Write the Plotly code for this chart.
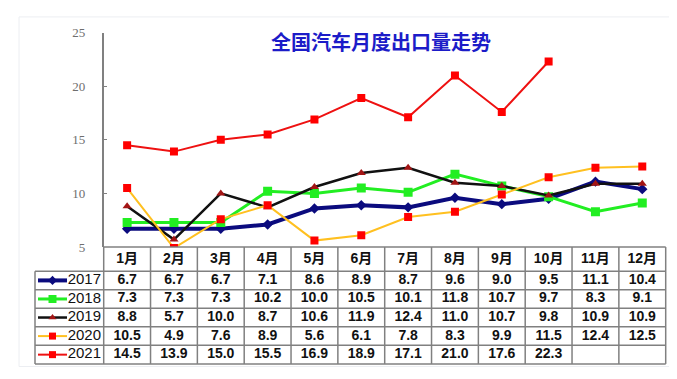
import plotly.graph_objects as go

months = ["1月", "2月", "3月", "4月", "5月", "6月", "7月", "8月", "9月", "10月", "11月", "12月"]
years = ["2017", "2018", "2019", "2020", "2021"]
v2017 = [6.7, 6.7, 6.7, 7.1, 8.6, 8.9, 8.7, 9.6, 9.0, 9.5, 11.1, 10.4]
v2018 = [7.3, 7.3, 7.3, 10.2, 10.0, 10.5, 10.1, 11.8, 10.7, 9.7, 8.3, 9.1]
v2019 = [8.8, 5.7, 10.0, 8.7, 10.6, 11.9, 12.4, 11.0, 10.7, 9.8, 10.9, 10.9]
v2020 = [10.5, 4.9, 7.6, 8.9, 5.6, 6.1, 7.8, 8.3, 9.9, 11.5, 12.4, 12.5]
v2021 = [14.5, 13.9, 15.0, 15.5, 16.9, 18.9, 17.1, 21.0, 17.6, 22.3]
series = [v2017, v2018, v2019, v2020, v2021]
y_ticks = [5, 10, 15, 20, 25]
title = "全国汽车月度出口量走势"

W, H = 677, 379
styles = [
    dict(line=dict(color="#0b0b7e", width=4), marker=dict(symbol="diamond", size=8, color="#0b0b7e")),
    dict(line=dict(color="#22ee22", width=3), marker=dict(symbol="square", size=9, color="#22ee22")),
    dict(line=dict(color="#111111", width=2.5), marker=dict(symbol="triangle-up", size=8, color="#a31515")),
    dict(line=dict(color="#ffc020", width=2), marker=dict(symbol="square", size=8, color="#ff0000")),
    dict(line=dict(color="#ee1111", width=2), marker=dict(symbol="square", size=8, color="#ff0000")),
]

# layout geometry (pixels)
PL, PR, PT, PB = 95.7, 657.7, 18.3, 241.6
TL, TB = 27.0, 363.3
HDR = 266.7
ncol = len(months)
cw = (PR - PL) / ncol
rh = (TB - HDR) / len(years)

def fx(px):
    return px / W

def fy(py):
    return 1 - py / H

def col(px):
    return (px - PL) / cw - 0.5

fig = go.Figure()

xi = list(range(ncol))
for vals, st, yr in zip(series, styles, years):
    fig.add_trace(go.Scatter(x=xi[:len(vals)], y=vals, mode="lines+markers", name=yr,
                             line=st["line"], marker=st["marker"], showlegend=False,
                             hoverinfo="skip", xaxis="x", yaxis="y"))

# table texts: header
tfont = dict(family="Liberation Sans, Noto Sans CJK SC", size=14, color="#111111", weight="bold")
fig.add_trace(go.Scatter(x=xi, y=[(PB + HDR) / 2] * ncol, mode="text", text=months,
                         textfont=tfont, showlegend=False, hoverinfo="skip",
                         xaxis="x2", yaxis="y2"))
for r, (vals, st, yr) in enumerate(zip(series, styles, years)):
    yc = HDR + rh * (r + 0.5)
    fig.add_trace(go.Scatter(x=xi[:len(vals)], y=[yc] * len(vals), mode="text",
                             text=[f"{v:.1f}" for v in vals], textfont=tfont,
                             showlegend=False, hoverinfo="skip", xaxis="x2", yaxis="y2"))
    # legend key
    fig.add_trace(go.Scatter(x=[col(30), col(59)], y=[yc, yc], mode="lines",
                             line=dict(color=st["line"]["color"], width=st["line"]["width"]),
                             showlegend=False, hoverinfo="skip", xaxis="x2", yaxis="y2"))
    fig.add_trace(go.Scatter(x=[col(44.5)], y=[yc], mode="markers",
                             marker=dict(symbol=st["marker"]["symbol"], size=st["marker"]["size"] - 1,
                                         color=st["marker"]["color"]),
                             showlegend=False, hoverinfo="skip", xaxis="x2", yaxis="y2"))
    fig.add_trace(go.Scatter(x=[col(93)], y=[yc], mode="text", text=[yr], textposition="middle left",
                             textfont=dict(family="Liberation Sans", size=15, color="#111111"),
                             showlegend=False, hoverinfo="skip", xaxis="x2", yaxis="y2"))

shapes = []
lc = dict(color="#808080", width=1.5)
# faint outer panel
shapes.append(dict(type="rect", xref="paper", yref="paper", x0=fx(11), x1=fx(665), y0=fy(366), y1=fy(2),
                   line=dict(color="#eceef2", width=1), layer="below"))
# horizontal table lines
shapes.append(dict(type="line", xref="paper", yref="paper", x0=fx(PL), x1=fx(PR), y0=fy(PB), y1=fy(PB), line=lc))
for k in range(len(years) + 1):
    yy = HDR + rh * k
    shapes.append(dict(type="line", xref="paper", yref="paper", x0=fx(TL), x1=fx(PR), y0=fy(yy), y1=fy(yy), line=lc))
# vertical table lines
shapes.append(dict(type="line", xref="paper", yref="paper", x0=fx(TL), x1=fx(TL), y0=fy(HDR), y1=fy(TB), line=lc))
for c in range(ncol + 1):
    xx = PL + cw * c
    shapes.append(dict(type="line", xref="paper", yref="paper", x0=fx(xx), x1=fx(xx), y0=fy(PB), y1=fy(TB), line=lc))

fig.update_layout(
    width=W, height=H, margin=dict(l=0, r=0, t=0, b=0),
    paper_bgcolor="white", plot_bgcolor="rgba(0,0,0,0)",
    xaxis=dict(domain=[fx(PL), fx(PR)], range=[-0.5, ncol - 0.5], visible=False, fixedrange=True),
    yaxis=dict(domain=[fy(PB), fy(PT)], range=[5, 25], tickvals=y_ticks, ticks="inside", ticklen=4,
               tickcolor="#808080", showline=True, linecolor="#808080", linewidth=1.5,
               showgrid=False, zeroline=False, ticklabelstandoff=14,
               tickfont=dict(family="Liberation Serif", size=13, color="#6e6e6e")),
    xaxis2=dict(domain=[fx(TL), fx(PR)], range=[col(TL), ncol - 0.5], visible=False, anchor="y2"),
    yaxis2=dict(domain=[fy(TB), fy(PB)], range=[TB, PB], visible=False, anchor="x2"),
    shapes=shapes,
    annotations=[dict(text=title, xref="paper", yref="paper", x=fx(373), y=fy(28), showarrow=False,
                      xanchor="center", yanchor="middle",
                      font=dict(family="Noto Sans CJK SC", size=20, color="#1c1cc8", weight="bold"))],
)
fig.write_html("out.html")
